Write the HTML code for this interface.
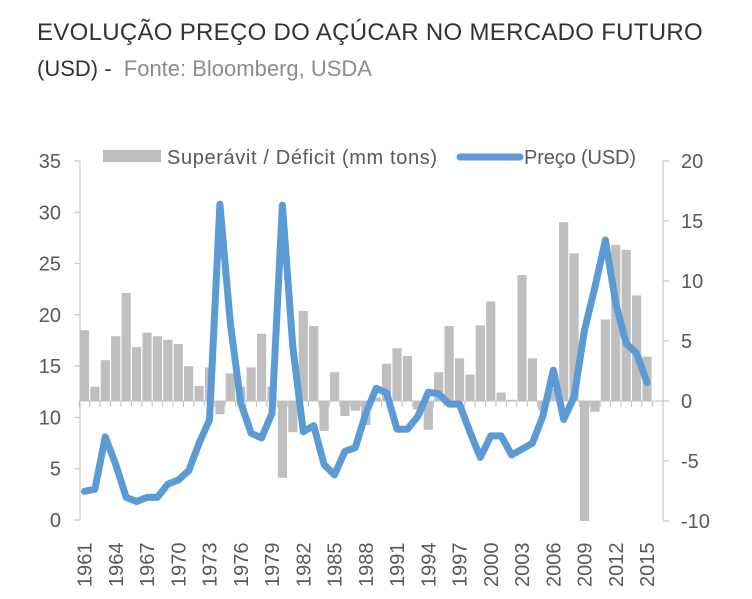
<!DOCTYPE html>
<html><head><meta charset="utf-8"><style>
body{margin:0;background:#fff;width:752px;height:599px;overflow:hidden;font-family:"Liberation Sans",sans-serif}
#t{position:absolute;left:37px;top:19px;width:661px;font-size:24px;color:#333;text-align:justify;text-align-last:justify;letter-spacing:0.3px;white-space:nowrap}
#s{position:absolute;left:37px;top:56px;font-size:22px;color:#333}
#s span{color:#8c8c8c}
svg{position:absolute;left:0;top:0}
</style></head><body>
<div id="t">EVOLUÇÃO PREÇO DO AÇÚCAR NO MERCADO FUTURO</div>
<div id="s">(USD) - &nbsp;<span>Fonte: Bloomberg, USDA</span></div>
<svg id="c" width="752" height="599" font-family="Liberation Sans, sans-serif"></svg>
<script>
var bars=[5.9,1.2,3.4,5.4,9.0,4.5,5.7,5.4,5.1,4.75,2.9,1.25,2.8,-1.1,2.3,1.2,2.8,5.6,1.2,-6.4,-2.6,7.5,6.25,-2.5,2.4,-1.25,-0.8,-2.0,0.3,3.1,4.4,3.75,-0.7,-2.4,2.4,6.25,3.55,2.2,6.3,8.3,0.7,0.1,10.5,3.55,-0.8,1.0,14.9,12.3,-10,-0.9,6.8,13.0,12.6,8.8,3.7];
var line=[2.8,3.0,8.1,5.4,2.2,1.8,2.2,2.2,3.5,3.9,4.8,7.5,9.75,30.8,19.2,11.4,8.45,8.0,10.4,30.7,16.9,8.6,9.2,5.4,4.4,6.7,7.05,10.4,12.85,12.4,8.85,8.85,10.1,12.45,12.3,11.3,11.3,8.6,6.1,8.2,8.2,6.35,6.9,7.5,10.1,14.6,9.8,12.0,18.5,22.7,27.3,21.1,17.2,16.25,13.4];
function cx(i){return 84.5+i*10.417}
function yl(v){return 520-v*10.257}
function yr(v){return 401-v*12}
var s='';
s+='<line x1="80" y1="161" x2="80" y2="520" stroke="#bfbfbf"/>';
for(var v=0;v<=35;v+=5){var y=yl(v);s+='<line x1="74" y1="'+y+'" x2="80" y2="'+y+'" stroke="#bfbfbf"/><text x="61" y="'+(y+7)+'" text-anchor="end" font-size="20" fill="#595959">'+v+'</text>';}
s+='<line x1="663" y1="161" x2="663" y2="520" stroke="#bfbfbf"/>';
for(var v=-10;v<=20;v+=5){var y=yr(v);s+='<line x1="663" y1="'+y+'" x2="669" y2="'+y+'" stroke="#bfbfbf"/><text x="681" y="'+(y+7)+'" font-size="20" fill="#595959">'+v+'</text>';}
for(var i=0;i<bars.length;i++){var b=bars[i],y0=yr(0),y1=yr(b);s+='<rect x="'+(cx(i)-4.6)+'" y="'+Math.min(y0,y1)+'" width="9.2" height="'+Math.abs(y1-y0)+'" fill="#bfbfbf"/>';}
s+='<line x1="80" y1="401" x2="663" y2="401" stroke="#bfbfbf"/>';
for(var i=0;i<=55;i++){var x=cx(i)-5.2;s+='<line x1="'+x+'" y1="401" x2="'+x+'" y2="407" stroke="#bfbfbf"/>';}
var p='';for(var i=0;i<line.length;i++)p+=(i?'L':'M')+cx(i).toFixed(1)+' '+yl(line[i]).toFixed(1);
s+='<path d="'+p+'" fill="none" stroke="#5b9bd5" stroke-width="7" stroke-linejoin="round" stroke-linecap="round"/>';
for(var yr_=1961;yr_<=2015;yr_+=3){var i=yr_-1961,x=cx(i)+7;s+='<text transform="translate('+x+',587) rotate(-90)" font-size="20" fill="#595959">'+yr_+'</text>';}
s+='<rect x="103" y="150" width="58" height="12" fill="#bfbfbf"/><text x="167" y="164" font-size="20" fill="#595959" textLength="270">Superávit / Déficit (mm tons)</text>';
s+='<line x1="460" y1="157" x2="520" y2="157" stroke="#5b9bd5" stroke-width="7" stroke-linecap="round"/><text x="524" y="164" font-size="20" fill="#595959" textLength="112">Preço (USD)</text>';
document.getElementById('c').innerHTML=s;
</script>
</body></html>
